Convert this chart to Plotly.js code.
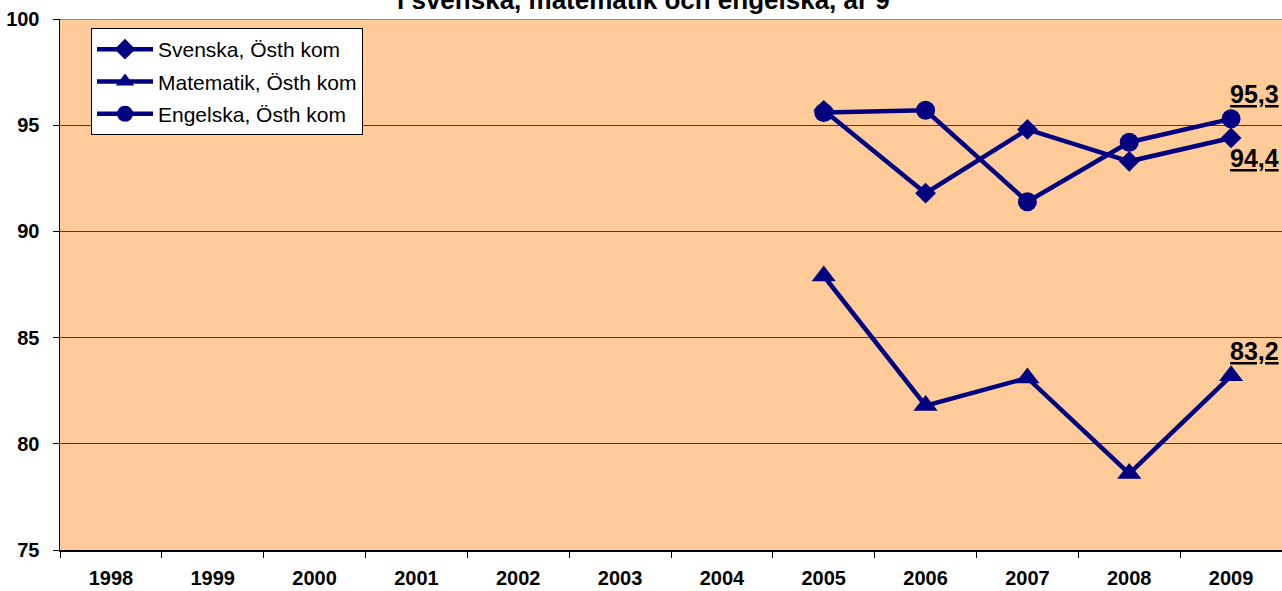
<!DOCTYPE html>
<html>
<head>
<meta charset="utf-8">
<script src="https://cdn.plot.ly/plotly-3.0.1.min.js"></script>
<style>html,body{margin:0;padding:0;background:#fff;}#chart{width:1282px;height:591px;}</style>
</head>
<body>
<div id="chart"></div>
<script>
var years = ['1998','1999','2000','2001','2002','2003','2004','2005','2006','2007','2008','2009'];
var svenska   = [null,null,null,null,null,null,null,95.7,91.8,94.8,93.3,94.4];
var matematik = [null,null,null,null,null,null,null,87.9,81.8,83.1,78.6,83.2];
var engelska  = [null,null,null,null,null,null,null,95.6,95.7,91.4,94.2,95.3];
var seriesNames = ['Svenska, Östh kom','Matematik, Östh kom','Engelska, Östh kom'];
var titleText = 'i svenska, matematik och engelska, år 9';

var FONT = 'Liberation Sans, Arial, sans-serif';
var NAVY = '#000080';

function mk(name, vals, symbol, size, grp) {
  return {
    type: 'scatter', mode: 'lines+markers', x: years, y: vals, name: name,
    legendgroup: grp, connectgaps: false,
    line: {color: NAVY, width: 4.5},
    marker: {symbol: symbol, size: size, color: NAVY}
  };
}
var traces = [
  mk(seriesNames[0], svenska, 'diamond', 16, 'a'),
  mk(seriesNames[1], matematik, 'triangle-up', 21, 'b'),
  mk(seriesNames[2], engelska, 'circle', 19, 'c')
];

function lab(v) { return '<b><u>' + v.toFixed(1).replace('.', ',') + '</u></b>'; }
var last = years.length - 1;
function valLabel(series, yshift) {
  return {text: lab(series[last]), xref: 'x', yref: 'y', x: last, y: series[last],
    xanchor: 'center', yanchor: 'middle', xshift: 23, yshift: yshift, showarrow: false,
    font: {family: FONT, size: 25, color: '#000'}};
}
var annotations = [
  {text: '<b>' + titleText + '</b>', xref: 'paper', yref: 'paper', x: (643 - 60) / 1222, y: 1.0354,
   xanchor: 'center', yanchor: 'middle', showarrow: false,
   font: {family: FONT, size: 26, color: '#000'}},
  valLabel(engelska, 25),
  valLabel(svenska, -20),
  valLabel(matematik, 25)
];

var layout = {
  width: 1282, height: 591,
  margin: {l: 60, r: 0, t: 19, b: 41, pad: 0},
  paper_bgcolor: '#ffffff', plot_bgcolor: '#FFCC99',
  font: {family: FONT, color: '#000'},
  showlegend: true,
  legend: {
    x: (91 - 60) / 1222, y: (550 - 28) / 531, xanchor: 'left', yanchor: 'top',
    bgcolor: '#ffffff', bordercolor: '#000000', borderwidth: 1,
    font: {family: FONT, size: 21, color: '#000'},
    traceorder: 'grouped', tracegroupgap: 2, itemwidth: 56
  },
  xaxis: {
    type: 'category', categoryorder: 'array', categoryarray: years,
    range: [-0.5, 11.5], showgrid: false, zeroline: false,
    showline: true, linecolor: '#000', linewidth: 1.5,
    ticks: 'outside', tickson: 'boundaries', ticklen: 6, tickcolor: '#000', tickwidth: 1,
    tickfont: {family: FONT, size: 20, color: '#000', weight: 'bold'},
    ticklabelstandoff: 9, fixedrange: true
  },
  yaxis: {
    range: [75, 100], dtick: 5, tick0: 75,
    showgrid: true, gridcolor: '#404040', gridwidth: 1, zeroline: false,
    showline: true, linecolor: '#000', linewidth: 1.5,
    ticks: 'outside', ticklen: 6, tickcolor: '#000', tickwidth: 1,
    tickfont: {family: FONT, size: 20, color: '#000', weight: 'bold'},
    ticklabelstandoff: 9, fixedrange: true
  },
  shapes: [
    {type: 'line', xref: 'paper', yref: 'y', x0: 0, x1: 1, y0: 100, y1: 100,
     line: {color: '#8c8c8c', width: 2}}
  ],
  annotations: annotations
};

Plotly.newPlot('chart', traces, layout, {displayModeBar: false, staticPlot: true});
</script>
</body>
</html>
